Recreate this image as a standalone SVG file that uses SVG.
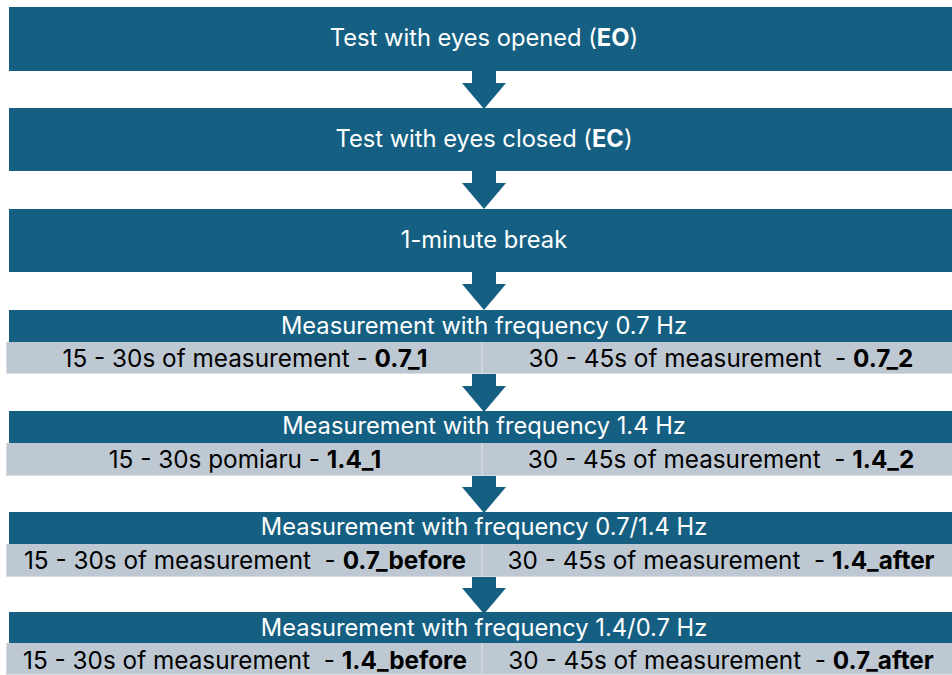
<svg xmlns="http://www.w3.org/2000/svg" width="952" height="675" viewBox="0 0 952 675">
<style>
.box{fill:#156082}
.row{fill:#BDC8D2}
.sh{fill:#D7DDE3}
.div{stroke:#D5DCE2;stroke-width:1.5}
.arr{fill:#156082}
.wt{fill:#FFFFFF;font-family:Inter,"Liberation Sans",sans-serif;font-size:23.7px;text-anchor:middle}
.bt{fill:#000000;font-family:Inter,"Liberation Sans",sans-serif;font-size:24.3px;text-anchor:middle}
.b{font-weight:bold}
</style>
<defs>
<path id="arrow" d="M -12 0 H 12 V 12 H 22 L 0 38 L -22 12 H -12 Z"/>
</defs>
<rect x="0" y="0" width="952" height="675" fill="#FFFFFF"/>
<g id="connectors">
<use href="#arrow" class="arr" x="484" y="71"/>
<use href="#arrow" class="arr" x="484" y="171"/>
<use href="#arrow" class="arr" x="484" y="272"/>
<use href="#arrow" class="arr" x="484" y="374"/>
<use href="#arrow" class="arr" x="484" y="475"/>
<use href="#arrow" class="arr" x="484" y="576"/>
</g>
<g id="eo">
<rect class="box" x="9" y="7" width="950" height="64"/>
<text class="wt" x="484" y="46">Test with eyes opened (<tspan class="b">EO</tspan>)</text>
</g>
<g id="ec">
<rect class="box" x="9" y="108" width="950" height="63"/>
<text class="wt" x="484" y="147">Test with eyes closed (<tspan class="b">EC</tspan>)</text>
</g>
<g id="break">
<rect class="box" x="9" y="209" width="950" height="63"/>
<text class="wt" x="484" y="248">1-minute break</text>
</g>
<g id="m07">
<rect class="box" x="9" y="310" width="950" height="32"/>
<rect class="sh" x="6" y="342" width="954" height="32"/>
<rect class="row" x="7" y="342" width="953" height="31"/>
<line class="div" x1="482" y1="342" x2="482" y2="373"/>
<text class="wt" x="484" y="334">Measurement with frequency 0.7 Hz</text>
<text class="bt" x="245" y="367">15 - 30s of measurement - <tspan class="b">0.7_1</tspan></text>
<text class="bt" x="721" y="367" xml:space="preserve">30 - 45s of measurement  - <tspan class="b">0.7_2</tspan></text>
</g>
<g id="m14">
<rect class="box" x="9" y="411" width="950" height="32"/>
<rect class="sh" x="6" y="443" width="954" height="33"/>
<rect class="row" x="7" y="443" width="953" height="32"/>
<line class="div" x1="482" y1="443" x2="482" y2="475"/>
<text class="wt" x="484" y="434">Measurement with frequency 1.4 Hz</text>
<text class="bt" x="245" y="468">15 - 30s pomiaru - <tspan class="b">1.4_1</tspan></text>
<text class="bt" x="721" y="468" xml:space="preserve">30 - 45s of measurement  - <tspan class="b">1.4_2</tspan></text>
</g>
<g id="m0714">
<rect class="box" x="9" y="512" width="950" height="32"/>
<rect class="sh" x="6" y="544" width="954" height="33"/>
<rect class="row" x="7" y="544" width="953" height="32"/>
<line class="div" x1="482" y1="544" x2="482" y2="576"/>
<text class="wt" x="484" y="535">Measurement with frequency 0.7/1.4 Hz</text>
<text class="bt" x="245" y="569" xml:space="preserve">15 - 30s of measurement  - <tspan class="b">0.7_before</tspan></text>
<text class="bt" x="721" y="569" xml:space="preserve">30 - 45s of measurement  - <tspan class="b">1.4_after</tspan></text>
</g>
<g id="m1407">
<rect class="box" x="9" y="612" width="950" height="31"/>
<rect class="sh" x="6" y="643" width="954" height="32"/>
<rect class="row" x="7" y="643" width="953" height="31"/>
<line class="div" x1="482" y1="643" x2="482" y2="675"/>
<text class="wt" x="484" y="636">Measurement with frequency 1.4/0.7 Hz</text>
<text class="bt" x="245" y="669" xml:space="preserve">15 - 30s of measurement  - <tspan class="b">1.4_before</tspan></text>
<text class="bt" x="721" y="669" xml:space="preserve">30 - 45s of measurement  - <tspan class="b">0.7_after</tspan></text>
</g>
</svg>
